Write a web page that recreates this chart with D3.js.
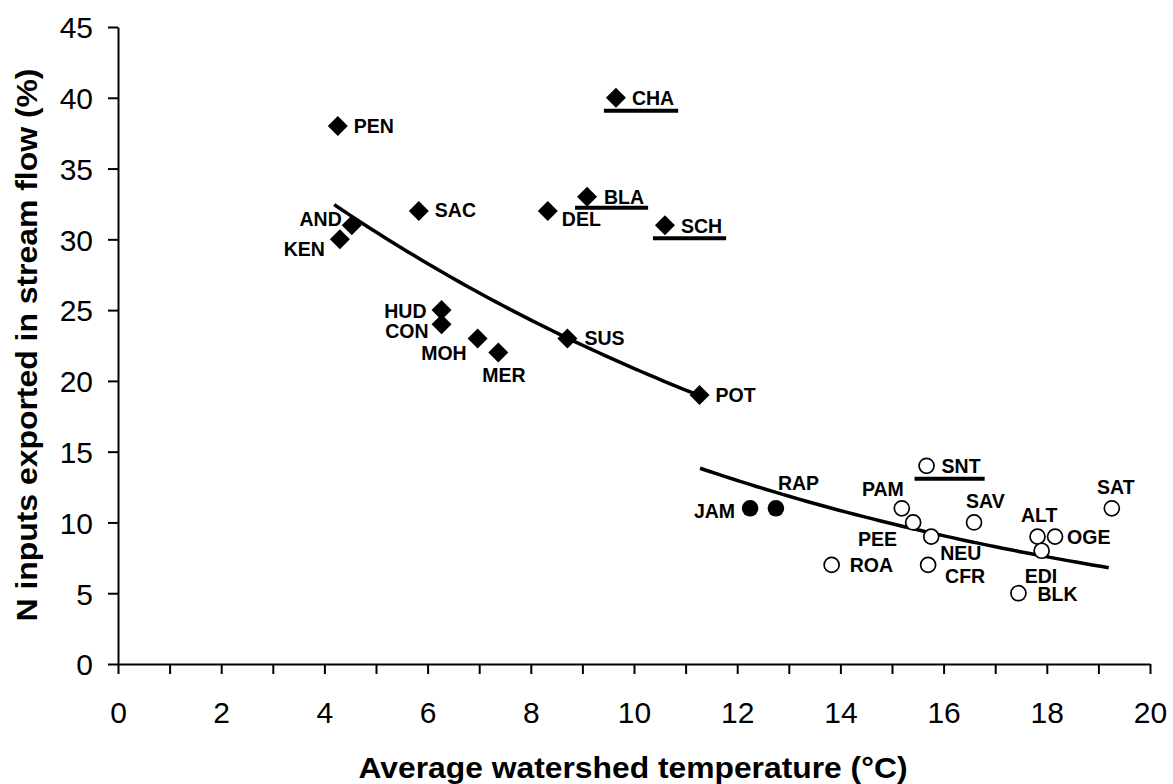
<!DOCTYPE html>
<html>
<head>
<meta charset="utf-8">
<script src="https://cdn.jsdelivr.net/npm/d3@7"></script>
<style>
  body { margin: 0; background: #fff; }
  svg text { font-family: "Liberation Sans", Arial, sans-serif; fill: #000; }
</style>
</head>
<body>
<svg id="chart" width="1173" height="784"></svg>
<script>
// northern watersheds (filled diamonds)
const northNames = ['PEN', 'AND', 'KEN', 'SAC', 'DEL', 'BLA', 'CHA', 'SCH', 'HUD', 'CON', 'MOH', 'MER', 'SUS', 'POT'];
const northTemp  = [4.26, 4.53, 4.30, 5.83, 8.33, 9.09, 9.65, 10.6, 6.27, 6.27, 6.97, 7.37, 8.71, 11.27];
const northPct   = [38, 31, 30, 32, 32, 33, 40, 31, 25, 24, 23, 22, 23, 19];

// southern watersheds (open circles)
const southNames = ['ROA', 'PAM', 'PEE', 'SNT', 'NEU', 'CFR', 'SAV', 'BLK', 'ALT', 'EDI', 'OGE', 'SAT'];
const southTemp  = [13.83, 15.19, 15.41, 15.67, 15.76, 15.70, 16.59, 17.45, 17.82, 17.90, 18.16, 19.26];
const southPct   = [7, 11, 10, 14, 9, 7, 10, 5, 9, 8, 9, 11];

// southern watersheds left out of the fit (filled circles)
const outNames = ['JAM', 'RAP'];
const outTemp  = [12.25, 12.75];
const outPct   = [11, 11];

// underlined watersheds
const underlined = ['CHA', 'BLA', 'SCH', 'SNT'];

// exponential trend lines y = a * exp(b * x), drawn over [xFrom, xTo]
const trendNorth = [44.6, -0.0759, 4.19, 11.27];
const trendSouth = [38.0, -0.0896, 11.28, 19.2];

const xTicks = d3.range(0, 21, 2);
const yTicks = d3.range(0, 46, 5);

// label placement: [dx, dy, anchor]
const labelPos = {
  PEN: [16, 7, 'start'], AND: [-10, 1, 'end'], KEN: [-15, 17, 'end'],
  SAC: [16, 6, 'start'], DEL: [14, 15, 'start'], BLA: [17, 7, 'start'],
  CHA: [16, 7, 'start'], SCH: [16, 8, 'start'], HUD: [-15, 8, 'end'],
  CON: [-13, 14, 'end'], MOH: [-11, 22, 'end'], MER: [-16, 29, 'start'],
  SUS: [17, 7, 'start'], POT: [16, 7, 'start'],
  ROA: [18, 7, 'start'], PAM: [2, -12, 'end'], PEE: [-16, 24, 'end'],
  SNT: [15, 7, 'start'], NEU: [9, 23, 'start'], CFR: [17, 18, 'start'],
  SAV: [-8, -14, 'start'], BLK: [19, 8, 'start'], ALT: [20, -15, 'end'],
  EDI: [-17, 32, 'start'], OGE: [12, 7, 'start'], SAT: [4, -14, 'middle'],
  JAM: [-15, 10, 'end'], RAP: [2, -18, 'start']
};

const svg = d3.select('#chart');
const margin = {top: 27, right: 23, bottom: 120, left: 118};
const width = 1173, height = 784;

const x = d3.scaleLinear().domain([0, 20]).range([margin.left, width - margin.right]);
const y = d3.scaleLinear().domain([0, 45]).range([height - margin.bottom, margin.top]);

/* axes */
const xAxis = d3.axisBottom(x).tickValues(d3.range(0, 21, 1)).tickSize(10).tickSizeOuter(0)
  .tickFormat(d => xTicks.includes(d) ? d : '');
const gx = svg.append('g').attr('transform', 'translate(0,' + y(0) + ')').call(xAxis);
gx.selectAll('text').attr('dy', 0).attr('y', 59).style('font-size', '30px');

const yAxis = d3.axisLeft(y).tickValues(yTicks).tickSize(10).tickSizeOuter(0);
const gy = svg.append('g').attr('transform', 'translate(' + x(0) + ',0)').call(yAxis);
gy.selectAll('text').attr('x', -25).attr('dy', '0.36em').style('font-size', '30px');

svg.selectAll('.domain, .tick line').attr('stroke', '#000').attr('stroke-width', 2);

svg.append('text')
  .attr('x', 633).attr('y', 778)
  .attr('text-anchor', 'middle')
  .attr('textLength', 549).attr('lengthAdjust', 'spacingAndGlyphs')
  .style('font-size', '30px').style('font-weight', 'bold')
  .text('Average watershed temperature (°C)');

svg.append('text')
  .attr('transform', 'translate(37,345) rotate(-90)')
  .attr('text-anchor', 'middle')
  .attr('textLength', 553).attr('lengthAdjust', 'spacingAndGlyphs')
  .style('font-size', '30px').style('font-weight', 'bold')
  .text('N inputs exported in stream flow (%)');

/* trend lines */
function trend(t){
  let pts = d3.range(t[2], t[3] + 0.001, (t[3] - t[2]) / 50);
  return pts.map(v => [x(v), y(t[0] * Math.exp(t[1] * v))]);
}
const line = d3.line();
[trendNorth, trendSouth].forEach(t => {
  svg.append('path').attr('d', line(trend(t)))
    .attr('fill', 'none').attr('stroke', '#000').attr('stroke-width', 3.5);
});

/* points */
const north = northNames.map((n, i) => ({name: n, x: northTemp[i], y: northPct[i]}));
const south = southNames.map((n, i) => ({name: n, x: southTemp[i], y: southPct[i]}));
const out = outNames.map((n, i) => ({name: n, x: outTemp[i], y: outPct[i]}));

svg.append('g').selectAll('path').data(north).enter().append('path')
  .attr('d', d3.symbol().type(d3.symbolSquare).size(200))
  .attr('transform', d => 'translate(' + x(d.x) + ',' + y(d.y) + ') rotate(45)')
  .attr('fill', '#000');

svg.append('g').selectAll('circle').data(south).enter().append('circle')
  .attr('cx', d => x(d.x)).attr('cy', d => y(d.y)).attr('r', 7.5)
  .attr('fill', '#fff').attr('stroke', '#000').attr('stroke-width', 1.7);

svg.append('g').selectAll('circle').data(out).enter().append('circle')
  .attr('cx', d => x(d.x)).attr('cy', d => y(d.y)).attr('r', 8.3)
  .attr('fill', '#000');

/* labels */
const all = north.concat(south, out);
const labels = svg.append('g').selectAll('text').data(all).enter().append('text')
  .attr('x', d => x(d.x) + labelPos[d.name][0])
  .attr('y', d => y(d.y) + labelPos[d.name][1])
  .attr('text-anchor', d => labelPos[d.name][2])
  .style('font-size', '19.5px').style('font-weight', 'bold')
  .text(d => d.name);

/* underlines below selected labels */
labels.filter(d => underlined.includes(d.name)).each(function(d){
  let b = this.getBBox();
  let off = d.name === 'BLA' ? 11 : 13;
  svg.append('line')
    .attr('x1', x(d.x) - 12).attr('x2', b.x + b.width + 4)
    .attr('y1', y(d.y) + off).attr('y2', y(d.y) + off)
    .attr('stroke', '#000').attr('stroke-width', 4);
});
</script>
</body>
</html>
